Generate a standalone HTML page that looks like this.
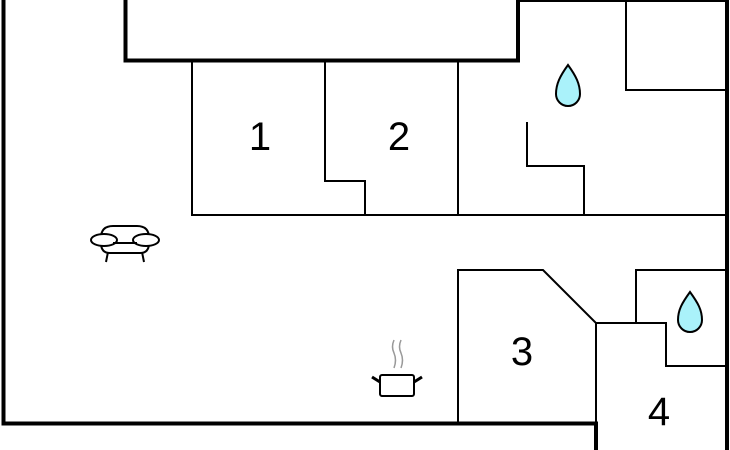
<!DOCTYPE html>
<html><head><style>html,body{margin:0;padding:0;background:#fff}svg{display:block}</style></head>
<body>
<svg width="730" height="450" viewBox="0 0 730 450" xmlns="http://www.w3.org/2000/svg">
<rect width="730" height="450" fill="#fff"/>
<g fill="none" stroke="#000" stroke-linecap="square">
<!-- thick walls -->
<path d="M3.5,0 V423.5 H596 V450" stroke-width="4"/>
<path d="M125.5,0 V60.5 H518 V0" stroke-width="4"/>
<path d="M727,0 V450" stroke-width="4"/>
<!-- thin walls -->
<g stroke-width="2">
<path d="M518,1 H727"/>
<path d="M192,61 V215 H727"/>
<path d="M325,61 V181 H365 V215"/>
<path d="M458,61 V215"/>
<path d="M626,1 V90 H727"/>
<path d="M527,123 V166 H584 V215"/>
<path d="M458,423 V270 H543 L596,323 V423"/>
<path d="M596,323 H666 V366 H727"/>
<path d="M636,323 V270 H727"/>
</g>
</g>
<!-- drops -->
<path d="M568,65 C560,76 556,84 556,94 A12,12 0 0 0 580,94 C580,84 576,76 568,65 Z" fill="#aaf2fa" stroke="#000" stroke-width="2"/>
<path d="M690,292 C682,303 678,310 678,320 A12,12 0 0 0 702,320 C702,310 698,303 690,292 Z" fill="#aaf2fa" stroke="#000" stroke-width="2"/>
<!-- sofa -->
<g fill="#fff" stroke="#000" stroke-width="2">
<path d="M108,252 L106,262 M142,252 L144,262"/>
<path d="M101,243 Q101,253 110,253 H140 Q149,253 149,243"/>
<path d="M101,238 Q101,226 113,226 H137 Q149,226 149,238"/>
<ellipse cx="104" cy="240" rx="13" ry="6"/>
<ellipse cx="146" cy="240" rx="13" ry="6"/>
<path d="M113,243 H137"/>
</g>
<!-- pot -->
<g stroke="#000" fill="none">
<path d="M394,340 Q391,347 394,353 Q397,360 394,368 M401,340 Q398,347 401,353 Q404,360 401,368" stroke="#999" stroke-width="1.5"/>
<rect x="380" y="375" width="34" height="21" rx="2" fill="#fff" stroke-width="2"/>
<path d="M372,377 L380,382 M422,377 L414,382" stroke-width="3"/>
</g>
<g font-family="Liberation Sans, sans-serif" font-size="40" text-anchor="middle" fill="#000">
<text x="260" y="150">1</text>
<text x="399" y="150">2</text>
<text x="522" y="365">3</text>
<text x="659" y="425">4</text>
</g>
</svg>
</body></html>
